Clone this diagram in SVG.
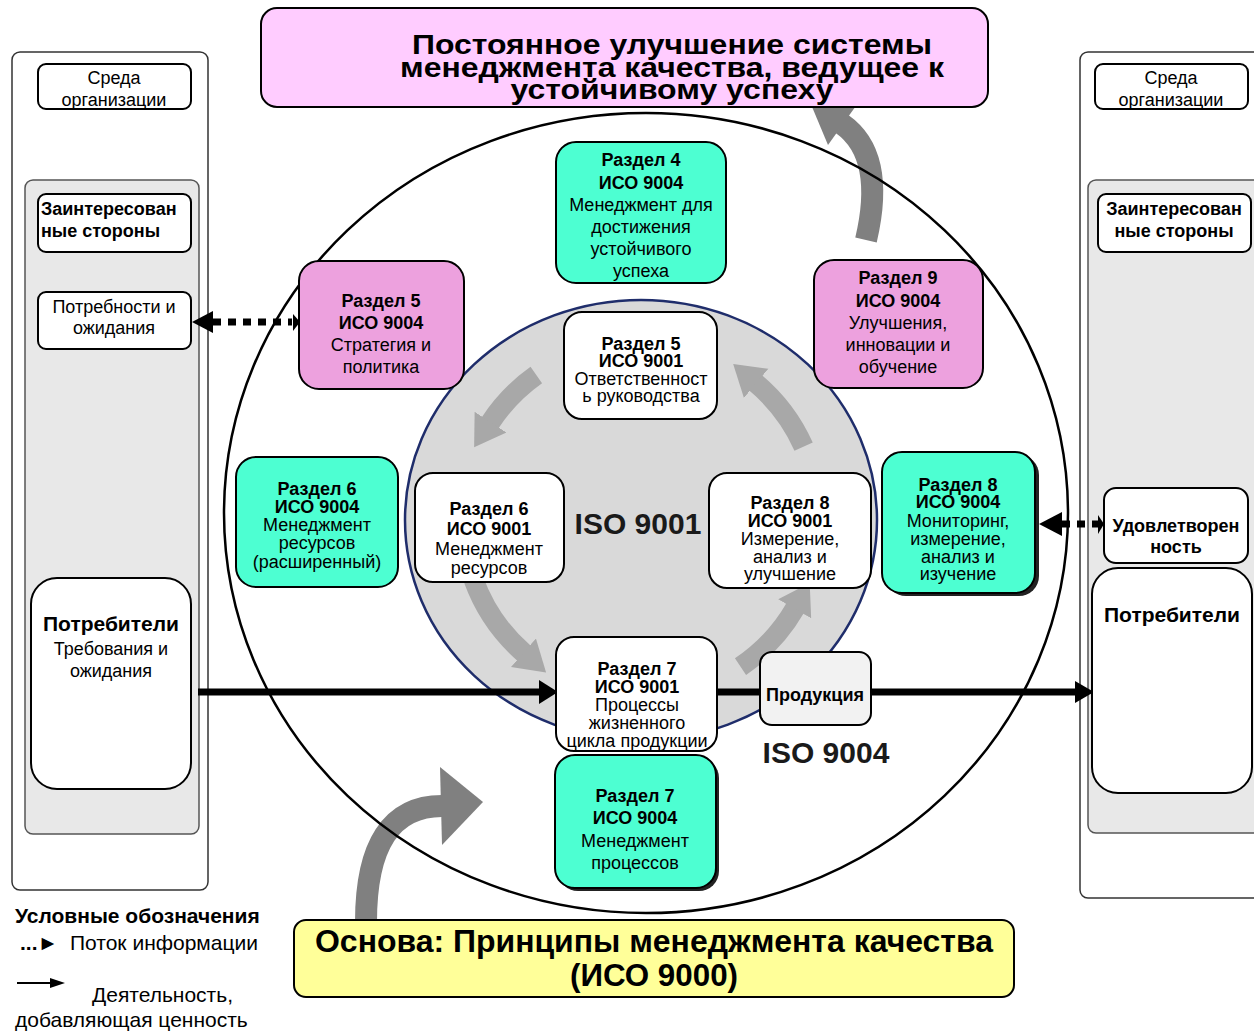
<svg xmlns="http://www.w3.org/2000/svg" width="1254" height="1031" viewBox="0 0 1254 1031">
<style>
.t{font-family:"Liberation Sans",Arial,sans-serif;font-size:18px;text-anchor:middle;fill:#000}
.l{text-anchor:start}
.b{font-weight:bold}
.bx{stroke:#000;stroke-width:2}
.teal{fill:#4dffd2}
.pink{fill:#eda1de}
.wht{fill:#fff}
.ga{fill:none;stroke:#a8a8a8;stroke-width:20}
.gb{fill:none;stroke:#808080;stroke-width:22}
</style>
<defs>
<marker id="gh" markerUnits="userSpaceOnUse" markerWidth="34" markerHeight="44" refX="1" refY="22" orient="auto">
<path d="M0,3 L30,22 L0,41 z" fill="#a8a8a8"/>
</marker>
</defs>
<rect width="1254" height="1031" fill="#fff"/>

<g id="left-panel">
<rect x="12" y="52" width="196" height="838" rx="8" fill="#fff" stroke="#333" stroke-width="1.5"/>
<rect x="25" y="180" width="174" height="654" rx="8" fill="#e8e8e8" stroke="#555" stroke-width="1.5"/>
</g>
<g id="right-panel">
<rect x="1080" y="52" width="190" height="846" rx="8" fill="#fff" stroke="#333" stroke-width="1.5"/>
<rect x="1088" y="180" width="180" height="653" rx="8" fill="#e8e8e8" stroke="#555" stroke-width="1.5"/>
</g>

<g id="outer-arrows">
<path class="gb" d="M366 922 Q366 806 442 806"/>
<polygon points="440,767 483,802 442,845" fill="#808080"/>
<path class="gb" d="M866 240 Q886 155 842 124"/>
<polygon points="858,103 828,145 810,102" fill="#808080"/>
</g>

<g id="outer-circle">
<ellipse cx="646" cy="513" rx="422" ry="400" fill="none" stroke="#000" stroke-width="2.5"/>
</g>

<g id="banner">
<rect x="261" y="8" width="727" height="99" rx="16" fill="#ffccff" class="bx"/>
<text class="t b" style="font-size:28px" x="672" y="54" textLength="520" lengthAdjust="spacingAndGlyphs">Постоянное улучшение системы</text>
<text class="t b" style="font-size:28px" x="672" y="77" textLength="544" lengthAdjust="spacingAndGlyphs">менеджмента качества, ведущее к</text>
<text class="t b" style="font-size:28px" x="672" y="99" textLength="323" lengthAdjust="spacingAndGlyphs">устойчивому успеху</text>
</g>

<g id="inner-circle">
<ellipse cx="641" cy="520" rx="236" ry="220" fill="#d9d9d9" stroke="#1f2d6b" stroke-width="2.5"/>
</g>

<g id="cycle-arrows">
<path class="ga" d="M536.3 375 A178 178 0 0 0 490 423" marker-end="url(#gh)"/>
<path class="ga" d="M473.7 579.9 A178 178 0 0 0 524.2 653.4" marker-end="url(#gh)"/>
<path class="ga" d="M740.5 666.6 A178 178 0 0 0 795.2 608" marker-end="url(#gh)"/>
<path class="ga" d="M803.6 446.6 A178 178 0 0 0 755.4 382.7" marker-end="url(#gh)"/>
</g>

<g id="connectors">
<line x1="198" y1="692" x2="542" y2="692" stroke="#000" stroke-width="7"/>
<polygon points="539,680 558,692 539,704" fill="#000"/>
<line x1="716" y1="692" x2="762" y2="692" stroke="#000" stroke-width="7"/>
<line x1="870" y1="692" x2="1078" y2="692" stroke="#000" stroke-width="7"/>
<polygon points="1075,681 1094,692 1075,703" fill="#000"/>
<line x1="213" y1="322" x2="292" y2="322" stroke="#000" stroke-width="7" stroke-dasharray="8 7"/>
<polygon points="213,311 192,322 213,333" fill="#000"/>
<polygon points="293,314 300,322 293,331" fill="#000"/>
<line x1="1062" y1="524" x2="1098" y2="524" stroke="#000" stroke-width="7" stroke-dasharray="8 7"/>
<polygon points="1062,512 1039,524 1062,536" fill="#000"/>
<polygon points="1098,515 1104,524 1098,534" fill="#000"/>
</g>

<g id="iso9001-label"><text class="t b" style="font-size:30px;fill:#1a1a1a" x="638" y="534">ISO 9001</text></g>
<g id="iso9004-label"><text class="t b" style="font-size:30px;fill:#1a1a1a" x="826" y="763">ISO 9004</text></g>

<g id="l-sreda">
<rect x="38" y="64" width="153" height="45" rx="8" class="bx wht"/>
<text class="t" x="114" y="84">Среда</text>
<text class="t" x="114" y="106">организации</text>
</g>
<g id="l-zainter">
<rect x="38" y="194" width="153" height="58" rx="8" class="bx wht"/>
<text class="t b l" x="41" y="215">Заинтересован</text>
<text class="t b l" x="41" y="237">ные стороны</text>
</g>
<g id="l-potreb">
<rect x="38" y="292" width="153" height="57" rx="8" class="bx wht"/>
<text class="t" x="114" y="313">Потребности и</text>
<text class="t" x="114" y="334">ожидания</text>
</g>
<g id="l-consumers">
<rect x="31" y="578" width="160" height="211" rx="26" class="bx wht"/>
<text class="t b" style="font-size:21px" x="111" y="631">Потребители</text>
<text class="t" x="111" y="655">Требования и</text>
<text class="t" x="111" y="677">ожидания</text>
</g>

<g id="r-sreda">
<rect x="1095" y="64" width="153" height="45" rx="8" class="bx wht"/>
<text class="t" x="1171" y="84">Среда</text>
<text class="t" x="1171" y="106">организации</text>
</g>
<g id="r-zainter">
<rect x="1098" y="194" width="153" height="58" rx="8" class="bx wht"/>
<text class="t b" x="1174" y="215">Заинтересован</text>
<text class="t b" x="1174" y="237">ные стороны</text>
</g>
<g id="r-udovl">
<rect x="1104" y="488" width="144" height="75" rx="12" class="bx wht"/>
<text class="t b" x="1176" y="532">Удовлетворен</text>
<text class="t b" x="1176" y="553">ность</text>
</g>
<g id="r-consumers">
<rect x="1092" y="568" width="160" height="225" rx="26" class="bx wht"/>
<text class="t b" style="font-size:21px" x="1172" y="622">Потребители</text>
</g>

<g id="s4-9004">
<rect x="556" y="142" width="170" height="141" rx="20" class="bx teal"/>
<text class="t b" x="641" y="166">Раздел 4</text>
<text class="t b" x="641" y="189">ИСО 9004</text>
<text class="t" x="641" y="211">Менеджмент для</text>
<text class="t" x="641" y="233">достижения</text>
<text class="t" x="641" y="255">устойчивого</text>
<text class="t" x="641" y="277">успеха</text>
</g>
<g id="s5-9004">
<rect x="299" y="261" width="165" height="128" rx="20" class="bx pink"/>
<text class="t b" x="381" y="307">Раздел 5</text>
<text class="t b" x="381" y="329">ИСО 9004</text>
<text class="t" x="381" y="351">Стратегия и</text>
<text class="t" x="381" y="373">политика</text>
</g>
<g id="s9-9004">
<rect x="814" y="260" width="169" height="128" rx="20" class="bx pink"/>
<text class="t b" x="898" y="284">Раздел 9</text>
<text class="t b" x="898" y="307">ИСО 9004</text>
<text class="t" x="898" y="329">Улучшения,</text>
<text class="t" x="898" y="351">инновации и</text>
<text class="t" x="898" y="373">обучение</text>
</g>
<g id="s6-9004">
<rect x="236" y="457" width="162" height="130" rx="20" class="bx teal"/>
<text class="t b" x="317" y="495">Раздел 6</text>
<text class="t b" x="317" y="513">ИСО 9004</text>
<text class="t" x="317" y="531">Менеджмент</text>
<text class="t" x="317" y="549">ресурсов</text>
<text class="t" x="317" y="568">(расширенный)</text>
</g>
<g id="s8-9004">
<rect x="886" y="455" width="153" height="141" rx="20" fill="#222"/>
<rect x="882" y="452" width="153" height="141" rx="20" class="bx teal"/>
<text class="t b" x="958" y="491">Раздел 8</text>
<text class="t b" x="958" y="508">ИСО 9004</text>
<text class="t" x="958" y="527">Мониторинг,</text>
<text class="t" x="958" y="545">измерение,</text>
<text class="t" x="958" y="563">анализ и</text>
<text class="t" x="958" y="580">изучение</text>
</g>
<g id="s7-9004">
<rect x="558" y="758" width="161" height="133" rx="20" fill="#222"/>
<rect x="555" y="755" width="161" height="133" rx="20" class="bx teal"/>
<text class="t b" x="635" y="802">Раздел 7</text>
<text class="t b" x="635" y="824">ИСО 9004</text>
<text class="t" x="635" y="847">Менеджмент</text>
<text class="t" x="635" y="869">процессов</text>
</g>

<g id="s5-9001">
<rect x="564" y="312" width="153" height="107" rx="18" class="bx wht"/>
<text class="t b" x="641" y="350">Раздел 5</text>
<text class="t b" x="641" y="367">ИСО 9001</text>
<text class="t" x="641" y="385">Ответственност</text>
<text class="t" x="641" y="402">ь руководства</text>
</g>
<g id="s6-9001">
<rect x="415" y="473" width="149" height="109" rx="18" class="bx wht"/>
<text class="t b" x="489" y="515">Раздел 6</text>
<text class="t b" x="489" y="535">ИСО 9001</text>
<text class="t" x="489" y="555">Менеджмент</text>
<text class="t" x="489" y="574">ресурсов</text>
</g>
<g id="s8-9001">
<rect x="709" y="473" width="162" height="115" rx="18" class="bx wht"/>
<text class="t b" x="790" y="509">Раздел 8</text>
<text class="t b" x="790" y="527">ИСО 9001</text>
<text class="t" x="790" y="545">Измерение,</text>
<text class="t" x="790" y="563">анализ и</text>
<text class="t" x="790" y="580">улучшение</text>
</g>
<g id="s7-9001">
<rect x="556" y="637" width="161" height="114" rx="18" class="bx wht"/>
<text class="t b" x="637" y="675">Раздел 7</text>
<text class="t b" x="637" y="693">ИСО 9001</text>
<text class="t" x="637" y="711">Процессы</text>
<text class="t" x="637" y="729">жизненного</text>
<text class="t" x="637" y="747">цикла продукции</text>
</g>
<g id="product">
<rect x="760" y="652" width="111" height="73" rx="12" fill="#f2f2f2" class="bx"/>
<text class="t b" x="815" y="701">Продукция</text>
</g>

<g id="basis">
<rect x="294" y="920" width="720" height="77" rx="12" fill="#ffff99" class="bx"/>
<text class="t b" style="font-size:31px" x="654" y="952" textLength="678" lengthAdjust="spacingAndGlyphs">Основа: Принципы менеджмента качества</text>
<text class="t b" style="font-size:31px" x="654" y="986" textLength="168" lengthAdjust="spacingAndGlyphs">(ИСО 9000)</text>
</g>

<g id="legend">
<text class="t b l" style="font-size:21px" x="15" y="923">Условные обозначения</text>
<text class="t b l" style="font-size:21px" x="20" y="950">...►</text>
<text class="t l" style="font-size:21px" x="70" y="950">Поток информации</text>
<line x1="17" y1="983" x2="52" y2="983" stroke="#000" stroke-width="2"/>
<polygon points="50,978 65,983 50,988" fill="#000"/>
<text class="t l" style="font-size:21px" x="92" y="1002">Деятельность,</text>
<text class="t l" style="font-size:21px" x="15" y="1027">добавляющая ценность</text>
</g>
</svg>
